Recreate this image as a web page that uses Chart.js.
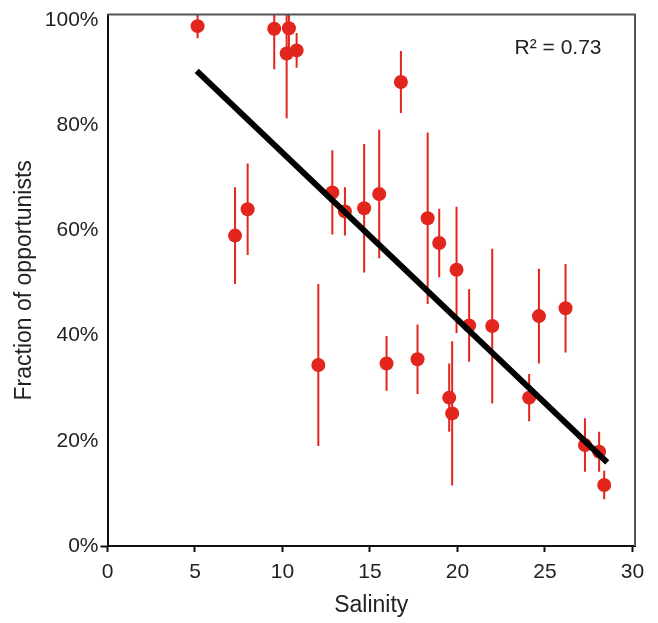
<!DOCTYPE html>
<html>
<head>
<meta charset="utf-8">
<script src="https://cdn.jsdelivr.net/npm/chart.js@4/dist/chart.umd.min.js"></script>
<style>
  html, body { margin: 0; padding: 0; background: #fff; }
  #wrap { width: 658px; height: 623px; position: relative; }
</style>
</head>
<body>
<div id="wrap"><canvas id="c" width="658" height="623"></canvas></div>
<script>
const salinity = [5.15, 7.29, 8.01, 9.53, 10.24, 10.37, 10.81, 12.05, 12.85, 13.57, 14.67, 15.53, 15.95, 16.77, 17.72, 18.3, 18.96, 19.53, 19.70, 19.95, 20.67, 21.99, 24.1, 24.66, 26.18, 27.29, 28.1, 28.39];
const fraction = [98.8, 59.0, 64.0, 98.3, 93.6, 98.4, 94.2, 34.4, 67.2, 63.6, 64.2, 66.9, 34.7, 88.2, 35.5, 62.3, 57.6, 28.2, 25.2, 52.5, 41.9, 41.8, 28.2, 43.7, 45.2, 19.2, 17.9, 11.6];
const errorHalf = [2.3, 9.2, 8.7, 7.7, 12.3, 4.0, 3.3, 15.4, 8.0, 4.6, 12.2, 12.2, 5.2, 5.9, 6.6, 16.3, 6.5, 6.5, 13.7, 12.0, 6.9, 14.7, 4.5, 9.0, 8.4, 5.1, 3.8, 2.7];
const fitX = [5.1, 28.56];
const fitY = [90.3, 15.9];
const xTicks = [0, 5, 10, 15, 20, 25, 30];
const yTicks = [0, 20, 40, 60, 80, 100];
const r2Label = 'R\u00B2 = 0.73';
const r2Pos = { x: 25.75, y: 94.7 };

const RED = '#e2251d';
const FONT = '"Liberation Sans", Arial, Helvetica, sans-serif';

const errorBars = {
  id: 'errorBars',
  beforeDatasetsDraw(chart) {
    const { ctx, chartArea, scales } = chart;
    ctx.save();
    ctx.beginPath();
    ctx.rect(chartArea.left, chartArea.top, chartArea.right - chartArea.left, chartArea.bottom - chartArea.top);
    ctx.clip();
    ctx.strokeStyle = RED;
    ctx.lineWidth = 2;
    salinity.forEach((sx, i) => {
      const px = scales.x.getPixelForValue(sx);
      const y1 = scales.y.getPixelForValue(fraction[i] + errorHalf[i]);
      const y2 = scales.y.getPixelForValue(fraction[i] - errorHalf[i]);
      ctx.beginPath();
      ctx.moveTo(px, y1);
      ctx.lineTo(px, y2);
      ctx.stroke();
    });
    ctx.restore();
  }
};

const frameAndText = {
  id: 'frameAndText',
  afterDraw(chart) {
    const { ctx, chartArea, scales } = chart;
    ctx.save();
    ctx.strokeStyle = '#555';
    ctx.lineWidth = 2;
    ctx.beginPath();
    ctx.moveTo(chartArea.left, chartArea.top);
    ctx.lineTo(chartArea.right, chartArea.top);
    ctx.lineTo(chartArea.right, chartArea.bottom);
    ctx.stroke();
    ctx.fillStyle = '#222';
    ctx.font = '21px ' + FONT;
    ctx.textAlign = 'center';
    ctx.textBaseline = 'middle';
    ctx.fillText(r2Label, scales.x.getPixelForValue(r2Pos.x), scales.y.getPixelForValue(r2Pos.y));
    ctx.restore();
  }
};

new Chart(document.getElementById('c'), {
  type: 'scatter',
  data: {
    datasets: [
      {
        type: 'line',
        data: fitX.map((x, i) => ({ x, y: fitY[i] })),
        borderColor: '#000',
        borderWidth: 6,
        pointRadius: 0,
        fill: false,
        order: 0
      },
      {
        data: salinity.map((x, i) => ({ x, y: fraction[i] })),
        backgroundColor: RED,
        borderColor: RED,
        borderWidth: 0,
        pointRadius: 7,
        order: 1
      }
    ]
  },
  options: {
    responsive: false,
    animation: false,
    events: [],
    layout: { padding: { top: 14, right: 23, left: 0, bottom: 0 } },
    plugins: { legend: { display: false }, tooltip: { enabled: false } },
    scales: {
      x: {
        type: 'linear',
        min: 0,
        max: 30.15,
        afterBuildTicks: s => { s.ticks = xTicks.map(v => ({ value: v })); },
        afterFit: s => { s.height = 77; },
        border: { color: '#111', width: 2 },
        grid: { drawOnChartArea: false, drawTicks: true, tickLength: 6, tickColor: '#111', tickWidth: 2 },
        ticks: { font: { family: FONT, size: 21 }, color: '#222', padding: 8, maxRotation: 0 },
        title: { display: true, text: 'Salinity', font: { family: FONT, size: 23 }, color: '#222', padding: { top: 10 } }
      },
      y: {
        type: 'linear',
        min: 0,
        max: 101,
        afterBuildTicks: s => { s.ticks = yTicks.map(v => ({ value: v })); },
        afterFit: s => { s.width = 107.5; },
        border: { color: '#111', width: 2 },
        grid: { drawOnChartArea: false, drawTicks: true, tickLength: 7, tickWidth: 2,
                tickColor: c => (c.tick && c.tick.value === 0) ? '#111' : 'rgba(0,0,0,0)' },
        ticks: { font: { family: FONT, size: 21 }, color: '#222', padding: 2, callback: v => v + '%' },
        title: { display: true, text: 'Fraction of opportunists', font: { family: FONT, size: 23 }, color: '#222', padding: { top: 11, bottom: 4 } }
      }
    }
  },
  plugins: [errorBars, frameAndText]
});
</script>
</body>
</html>
